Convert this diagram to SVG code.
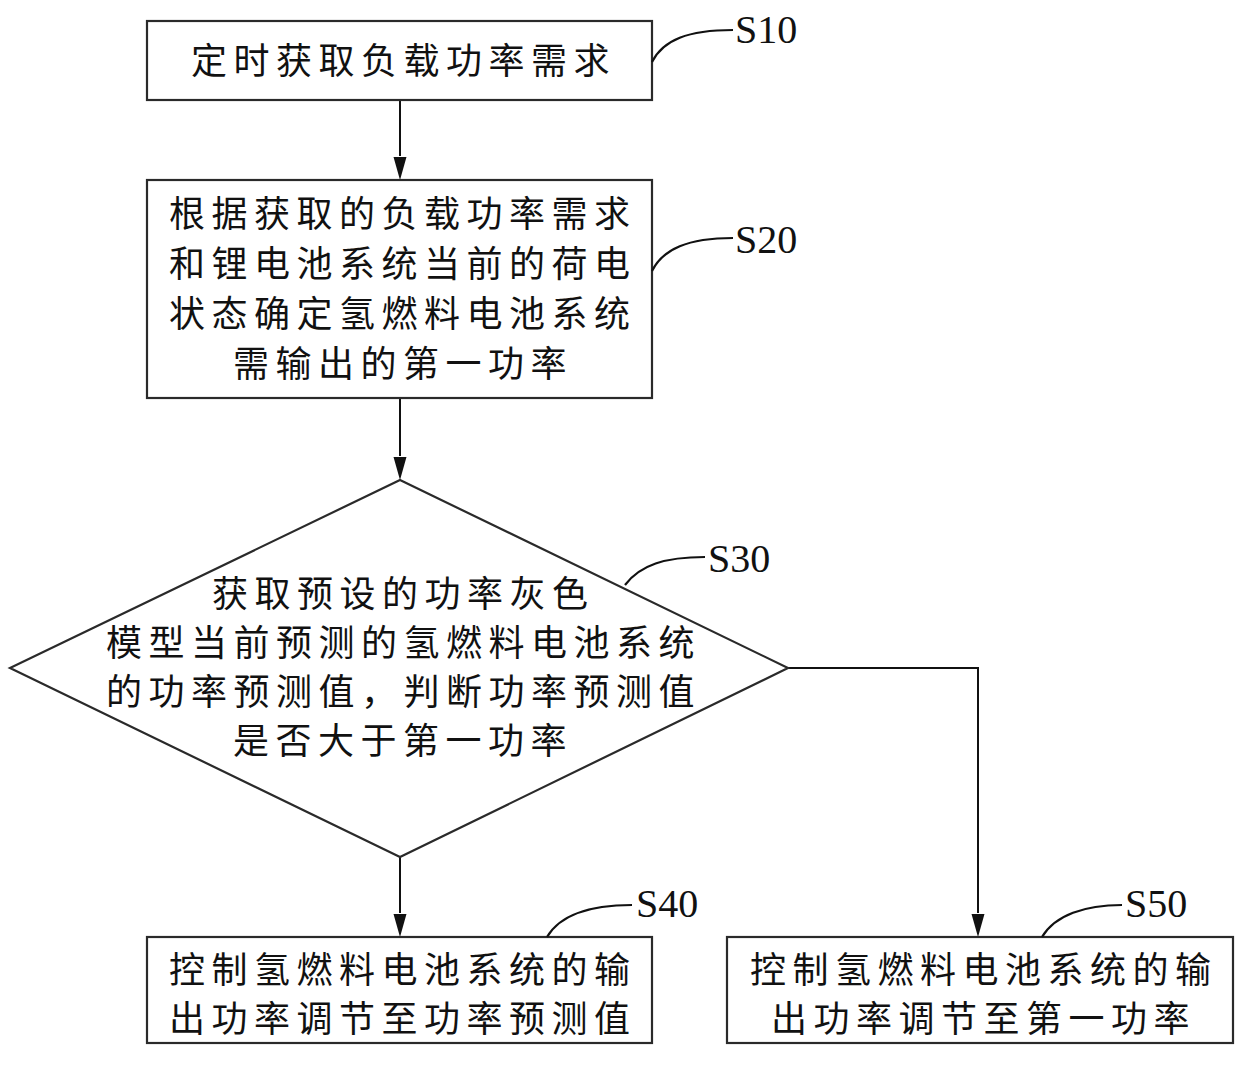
<svg xmlns="http://www.w3.org/2000/svg" width="1240" height="1081" viewBox="0 0 1240 1081">
<style>
.box{fill:#fff;stroke:#2a2a2a;stroke-width:2.2}
.t{font-family:"Noto Sans CJK SC","Noto Sans CJK JP",sans-serif;font-size:36px;letter-spacing:6.5px;fill:#111}
.lbl{font-family:"Liberation Serif","Times New Roman",serif;font-size:40px;fill:#111}
.lead{fill:none;stroke:#111;stroke-width:2.2}
.conn{fill:none;stroke:#111;stroke-width:2}
</style>
<rect width="1240" height="1081" fill="#fff"/>
<g id="connectors">
<path class="conn" d="M400,100 V156" />
<path d="M393.5,157 L406.5,157 L400,180 Z" fill="#111"/>
<path class="conn" d="M400,398 V456" />
<path d="M393.5,457 L406.5,457 L400,480 Z" fill="#111"/>
<path class="conn" d="M400,857 V913" />
<path d="M393.5,914 L406.5,914 L400,937 Z" fill="#111"/>
<path class="conn" d="M788,668 H978 V913" />
<path d="M971.5,914 L984.5,914 L978,937 Z" fill="#111"/>
</g>
<g id="S10">
<rect class="box" x="147" y="21" width="505" height="79"/>
<text class="t" x="191" y="74">定时获取负载功率需求</text>
<path class="lead" d="M652,62 C663,40 688,30 733,30"/>
<text class="lbl" x="735" y="43">S10</text>
</g>
<g id="S20">
<rect class="box" x="147" y="180" width="505" height="218"/>
<text class="t" x="169" y="227">根据获取的负载功率需求</text>
<text class="t" x="169" y="277">和锂电池系统当前的荷电</text>
<text class="t" x="169" y="327">状态确定氢燃料电池系统</text>
<text class="t" x="233" y="377">需输出的第一功率</text>
<path class="lead" d="M652,271 C663,249 688,238 733,238"/>
<text class="lbl" x="735" y="253">S20</text>
</g>
<g id="S30">
<polygon class="box" points="400,480 788,668 400,857 10,668"/>
<text class="t" x="212" y="607">获取预设的功率灰色</text>
<text class="t" x="106" y="656">模型当前预测的氢燃料电池系统</text>
<text class="t" x="106" y="705">的功率预测值，判断功率预测值</text>
<text class="t" x="233" y="754">是否大于第一功率</text>
<path class="lead" d="M625,585 C640,565 665,557 705,557"/>
<text class="lbl" x="708" y="572">S30</text>
</g>
<g id="S40">
<rect class="box" x="147" y="937" width="505" height="106"/>
<text class="t" x="169" y="983">控制氢燃料电池系统的输</text>
<text class="t" x="169" y="1032">出功率调节至功率预测值</text>
<path class="lead" d="M547,937 C560,915 590,905 632,905"/>
<text class="lbl" x="636" y="917">S40</text>
</g>
<g id="S50">
<rect class="box" x="727" y="937" width="506" height="106"/>
<text class="t" x="750" y="983">控制氢燃料电池系统的输</text>
<text class="t" x="771" y="1032">出功率调节至第一功率</text>
<path class="lead" d="M1042,937 C1055,915 1085,905 1122,905"/>
<text class="lbl" x="1125" y="917">S50</text>
</g>
</svg>
